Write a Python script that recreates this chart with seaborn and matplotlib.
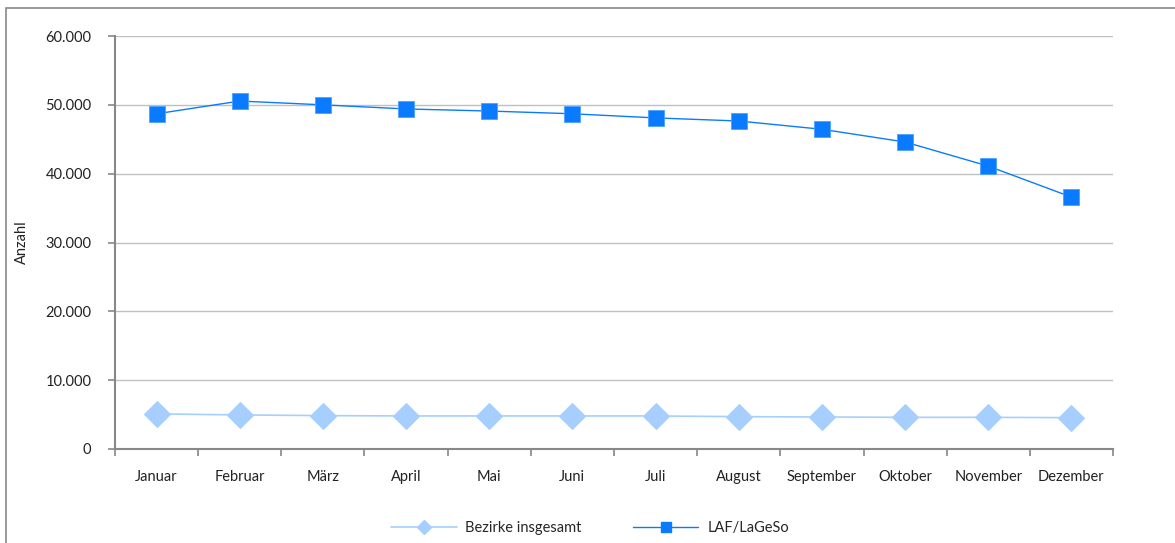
import matplotlib
matplotlib.use("Agg")
import matplotlib.pyplot as plt
import matplotlib.ticker as mticker
from matplotlib.lines import Line2D
from matplotlib.patches import Rectangle
import seaborn as sns
import pandas as pd
import numpy as np

months = ["Januar", "Februar", "März", "April", "Mai", "Juni", "Juli",
          "August", "September", "Oktober", "November", "Dezember"]
laf = [48700, 50550, 50000, 49400, 49100, 48700, 48100, 47650, 46450, 44600, 41100, 36600]
bezirke = [5100, 4950, 4850, 4800, 4800, 4800, 4800, 4700, 4650, 4600, 4600, 4550]
yticks = [0, 10000, 20000, 30000, 40000, 50000, 60000]

sns.set_theme(style="white")
plt.rcParams['font.family'] = ['Lato', 'DejaVu Sans']

c_laf = "#0A7BFF"
c_bez = "#A6CFFF"

df = pd.DataFrame({"pos": np.arange(len(months)), "laf": laf, "bez": bezirke})

fig = plt.figure(figsize=(11.75, 5.43), dpi=100)
ax = fig.add_axes([115/1175, 1-449/543, (1113-115)/1175, (449-36)/543])

sns.lineplot(data=df, x="pos", y="bez", ax=ax, color=c_bez, lw=1.2, marker="D",
             markersize=13, markeredgecolor=c_bez, zorder=3)
sns.lineplot(data=df, x="pos", y="laf", ax=ax, color=c_laf, lw=1.0, marker="s",
             markersize=11, markeredgecolor="#4DA0FF", markeredgewidth=0.6, zorder=4)

ax.set_xlim(-0.5, len(months) - 0.5)
ax.set_ylim(0, 60000)
ax.set_yticks(yticks)
ax.yaxis.set_major_formatter(mticker.FuncFormatter(lambda v, p: f"{int(v):,}".replace(",", ".")))
ax.set_xticks(np.arange(len(months) + 1) - 0.5)
ax.set_xticklabels([])
ax.set_xticks(np.arange(len(months)), minor=True)
ax.set_xticklabels(months, minor=True)
ax.tick_params(axis="x", which="minor", length=0, pad=15, labelsize=10.5, colors="#222222")
ax.tick_params(axis="x", which="major", length=5, width=1.2, color="#888888", direction="out")
ax.tick_params(axis="y", length=5, width=1.2, color="#888888", direction="out", labelsize=10.5,
               labelcolor="#222222", pad=12)
ax.tick_params(bottom=True, left=True)

ax.grid(axis="y", color="#C0C0C0", lw=1.0)
ax.set_axisbelow(True)
for s in ["top", "right"]:
    ax.spines[s].set_visible(False)
for s in ["left", "bottom"]:
    ax.spines[s].set_color("#888888")
    ax.spines[s].set_linewidth(1.5)

ax.set_xlabel("")
ax.set_ylabel("Anzahl", fontsize=10.5, color="#222222")
ax.yaxis.set_label_coords(-0.086, 0.5)

handles = [
    Line2D([], [], color=c_bez, lw=1.2, marker="D", markersize=7, markeredgecolor=c_bez),
    Line2D([], [], color=c_laf, lw=1.0, marker="s", markersize=7, markeredgecolor=c_laf),
]
fig.legend(handles, ["Bezirke insgesamt", "LAF/LaGeSo"], loc="center",
           bbox_to_anchor=(590/1175, 1-528/543), ncol=2, frameon=False, fontsize=10.5,
           handlelength=4.5, columnspacing=3.5, handletextpad=0.6)

fig.patches.append(Rectangle((6/1175, -0.1), 1.2, 1 - 8/543 + 0.1, transform=fig.transFigure,
                             fill=False, edgecolor="#888888", lw=1.2))

fig.savefig("out.png", dpi=100)
